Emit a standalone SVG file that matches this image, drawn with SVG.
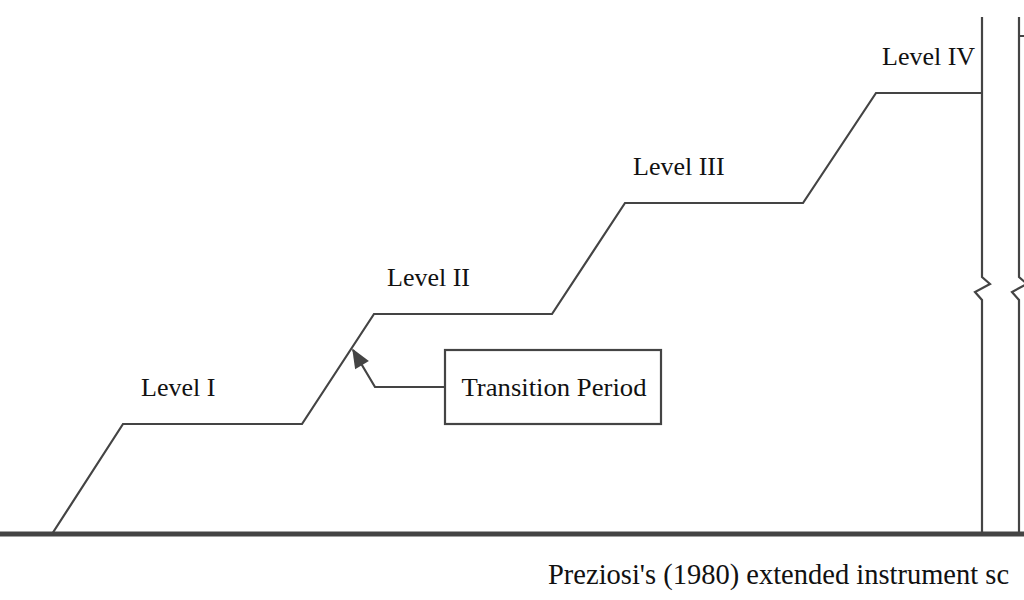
<svg xmlns="http://www.w3.org/2000/svg" width="1024" height="600" viewBox="0 0 1024 600">
<defs>
<style>
.ln{fill:none;stroke:#444;stroke-width:2.2;stroke-linejoin:miter}
.t{font-family:"Liberation Serif","Times New Roman",serif;font-size:26px;fill:#111}
</style>
<marker id="ah2" viewBox="0 0 12 10" refX="11" refY="5" markerWidth="22" markerHeight="16" markerUnits="userSpaceOnUse" orient="auto">
<path d="M0,0 L12,5 L0,10 z" fill="#444"/>
</marker>
</defs>
<rect width="1024" height="600" fill="#fff"/>
<g id="axis">
<line x1="0" y1="534" x2="1024" y2="534" stroke="#444" stroke-width="5"/>
<path class="ln" d="M982,17 V277 L990,284 L975,292 L982,300 V534"/>
<path class="ln" d="M1019,17 V277 L1027,284 L1012,292 L1019,300 V534 M1019,36 H1030"/>
</g>
<g id="staircase">
<path class="ln" d="M52,534 L123,424 H302 L374,314 H552 L625,203 H803 L876,93 H982"/>
</g>
<g id="level1"><text class="t" x="141" y="396">Level I</text></g>
<g id="level2"><text class="t" x="387" y="286">Level II</text></g>
<g id="level3"><text class="t" x="633" y="175">Level III</text></g>
<g id="level4"><text class="t" x="882" y="65">Level IV</text></g>
<g id="transition">
<rect x="445" y="350" width="216" height="74" fill="#fff" stroke="#444" stroke-width="2.2"/>
<text class="t" x="554" y="396" text-anchor="middle" textLength="185" lengthAdjust="spacingAndGlyphs">Transition Period</text>
</g>
<g id="connectors">
<path class="ln" d="M445,387 H375 L353,350" marker-end="url(#ah2)"/>
</g>
<g id="caption">
<text x="548" y="584" font-family="'Liberation Serif','Times New Roman',serif" font-size="28.5" fill="#111">Preziosi's (1980) extended instrument sc</text>
</g>
</svg>
